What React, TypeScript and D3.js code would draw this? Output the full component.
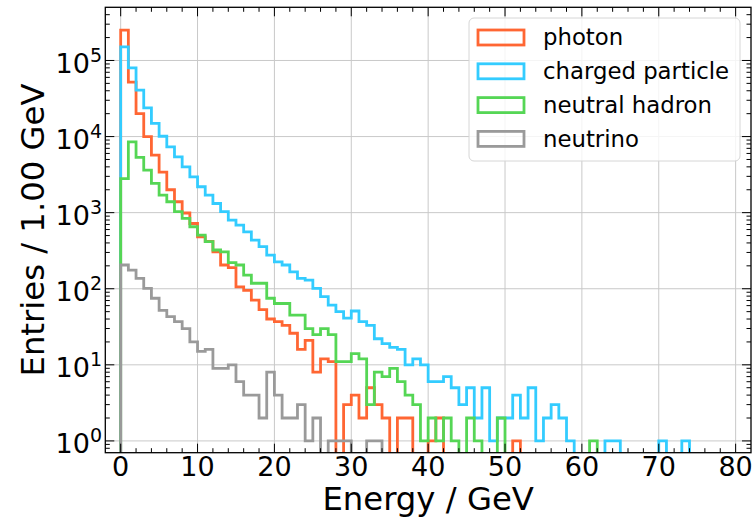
import React from 'react';
import * as d3 from 'd3';

// Histogram contents, 1 GeV bins starting at 0 GeV
const photon = [
  250000, 52000, 20000, 10000, 5700, 3400, 2000, 1390, 990, 720,
  480, 420, 306, 205, 190, 106, 95, 71, 53, 40,
  37, 33, 26, 16, 21, 8, 12, 11, 0, 3,
  4, 2, 5, 3, 2, 0, 2, 2, 0, 0,
  1, 2, 0, 0, 0, 0, 0, 0, 0, 0,
  0, 1,
];
const chargedParticle = [
  151000, 80000, 40700, 23900, 14900, 10100, 7330, 5420, 4000, 2960,
  2190, 1700, 1320, 1030, 800, 687, 560, 436, 357, 277,
  226, 205, 167, 137, 130, 101, 79, 61, 50, 41,
  51, 37, 33, 22, 19, 17, 16, 10, 12, 10,
  6, 6, 7, 5, 3, 5, 2, 5, 1, 2,
  2, 4, 2, 5, 1, 2, 3, 2, 1, 0,
  0, 0, 0, 1, 1, 0, 0, 0, 0, 0,
  1, 0, 0, 1,
];
const neutralHadron = [
  2800, 8500, 5320, 3630, 2420, 1700, 1390, 1030, 840, 653,
  508, 415, 323, 306, 220, 205, 151, 118, 118, 75,
  64, 64, 45, 45, 30, 25, 30, 25, 11, 11,
  14, 12, 3, 8, 7, 9, 6, 4, 3, 1,
  2, 1, 2, 1, 0, 2, 1, 0, 0, 2,
  0, 0, 0, 0, 0, 0, 0, 0, 0, 0,
  0, 1,
];
const neutrino = [
  205, 176, 137, 101, 75, 52, 43, 37, 30, 20,
  15, 16, 9, 9, 10, 6, 4, 4, 2, 8,
  4, 2, 2, 3, 1, 2, 0, 1, 1, 1,
  0, 0, 1, 1,
];

const seriesNames = ['photon', 'charged particle', 'neutral hadron', 'neutrino'];
const seriesData = [photon, chargedParticle, neutralHadron, neutrino];
const seriesColors = ['#ff6633', '#33ccff', '#55d655', '#9a9a9a'];

const xTickValues = [0, 10, 20, 30, 40, 50, 60, 70, 80];
const yTickExponents = [0, 1, 2, 3, 4, 5];
const xLabel = 'Energy / GeV';
const yLabel = 'Entries / 1.00 GeV';

const FONT = 'DejaVu Sans, sans-serif';

export default function App() {
  const W = 755;
  const H = 521;
  const left = 105.3;
  const right = 751;
  const top = 7.3;
  const bottom = 452.7;

  const x = d3.scaleLinear().domain([-2, 82]).range([left, right]);
  const y = d3.scaleLog().domain([0.7, 5e5]).range([bottom, top]);
  const floor = 0.01;

  const line = d3
    .line<[number, number]>()
    .x((d) => x(d[0]))
    .y((d) => y(d[1]))
    .curve(d3.curveStepAfter);

  const stepPath = (vals: number[]) => {
    const pts: [number, number][] = [[0, floor]];
    vals.forEach((v, i) => pts.push([i, v > 0 ? v : floor]));
    const last = vals[vals.length - 1];
    pts.push([vals.length, last > 0 ? last : floor]);
    pts.push([vals.length, floor]);
    return line(pts) || '';
  };

  const majorLen = 9;
  const minorLen = 4.5;

  const xMinor: number[] = [];
  for (let v = 0; v <= 80; v += 2) if (v % 10 !== 0) xMinor.push(v);
  const yMajor = yTickExponents.map((e) => Math.pow(10, e));
  const yMinor: number[] = [];
  for (let k = -1; k <= 5; k++) {
    for (let m = 2; m <= 9; m++) {
      const v = m * Math.pow(10, k);
      if (v > 0.7 * 1.001 && v < 5e5 * 0.999) yMinor.push(v);
    }
  }

  const tickStroke = '#000';
  const gridColor = '#c9c9c9';

  // legend geometry
  const legX = 469;
  const legY = 18;
  const legW = 271;
  const legH = 143;
  const entryY0 = 37.5;
  const entryDy = 33.8;

  return (
    <svg
      width={W}
      height={H}
      style={{ position: 'absolute', left: 0, top: 0, background: '#fff' }}
      fontFamily={FONT}
    >
      <defs>
        <clipPath id="plotclip">
          <rect x={left} y={top} width={right - left} height={bottom - top} />
        </clipPath>
      </defs>
      <rect x={0} y={0} width={W} height={H} fill="#fff" />

      {/* grid */}
      <g stroke={gridColor} strokeWidth={1}>
        {xTickValues.map((v) => (
          <line key={'gx' + v} x1={x(v)} x2={x(v)} y1={top} y2={bottom} />
        ))}
        {yMajor.map((v) => (
          <line key={'gy' + v} x1={left} x2={right} y1={y(v)} y2={y(v)} />
        ))}
      </g>

      {/* histograms */}
      <g clipPath="url(#plotclip)" fill="none" strokeWidth={2.8} strokeLinejoin="miter">
        {seriesData.map((vals, i) => (
          <path key={seriesNames[i]} d={stepPath(vals)} stroke={seriesColors[i]} />
        ))}
      </g>

      {/* legend */}
      <g>
        <rect
          x={legX}
          y={legY}
          width={legW}
          height={legH}
          rx={5}
          ry={5}
          fill="#fff"
          fillOpacity={0.8}
          stroke="#d6d6d6"
          strokeWidth={1}
        />
        {seriesNames.map((name, i) => {
          const cy = entryY0 + i * entryDy;
          return (
            <g key={'leg' + name}>
              <rect
                x={478}
                y={cy - 7.5}
                width={46}
                height={15}
                fill="none"
                stroke={seriesColors[i]}
                strokeWidth={2.8}
              />
              <text x={543} y={cy + 7.8} fontSize={22.8} fill="#000">
                {name}
              </text>
            </g>
          );
        })}
      </g>

      {/* ticks */}
      <g stroke={tickStroke} strokeWidth={1}>
        {xTickValues.map((v) => (
          <g key={'xt' + v}>
            <line x1={x(v)} x2={x(v)} y1={bottom} y2={bottom - majorLen} />
            <line x1={x(v)} x2={x(v)} y1={top} y2={top + majorLen} />
          </g>
        ))}
        {xMinor.map((v) => (
          <g key={'xm' + v}>
            <line x1={x(v)} x2={x(v)} y1={bottom} y2={bottom - minorLen} />
            <line x1={x(v)} x2={x(v)} y1={top} y2={top + minorLen} />
          </g>
        ))}
        {yMajor.map((v) => (
          <g key={'yt' + v}>
            <line x1={left} x2={left + majorLen} y1={y(v)} y2={y(v)} />
            <line x1={right} x2={right - majorLen} y1={y(v)} y2={y(v)} />
          </g>
        ))}
        {yMinor.map((v) => (
          <g key={'ym' + v}>
            <line x1={left} x2={left + minorLen} y1={y(v)} y2={y(v)} />
            <line x1={right} x2={right - minorLen} y1={y(v)} y2={y(v)} />
          </g>
        ))}
      </g>

      {/* spines */}
      <rect
        x={left}
        y={top}
        width={right - left}
        height={bottom - top}
        fill="none"
        stroke="#000"
        strokeWidth={1.3}
      />

      {/* tick labels */}
      <g fontSize={27} fill="#000">
        {xTickValues.map((v) => (
          <text key={'xl' + v} x={x(v)} y={476} textAnchor="middle">
            {String(v)}
          </text>
        ))}
        {yTickExponents.map((e) => (
          <text key={'yl' + e} x={102} y={y(Math.pow(10, e)) + 12.5} textAnchor="end">
            10
            <tspan dy={-11} fontSize={19}>
              {String(e)}
            </tspan>
          </text>
        ))}
      </g>

      {/* axis labels */}
      <text x={(left + right) / 2} y={510} textAnchor="middle" fontSize={32.3} fill="#000">
        {xLabel}
      </text>
      <text
        transform={`translate(44, ${(top + bottom) / 2}) rotate(-90)`}
        textAnchor="middle"
        fontSize={32.3}
        fill="#000"
      >
        {yLabel}
      </text>
    </svg>
  );
}
